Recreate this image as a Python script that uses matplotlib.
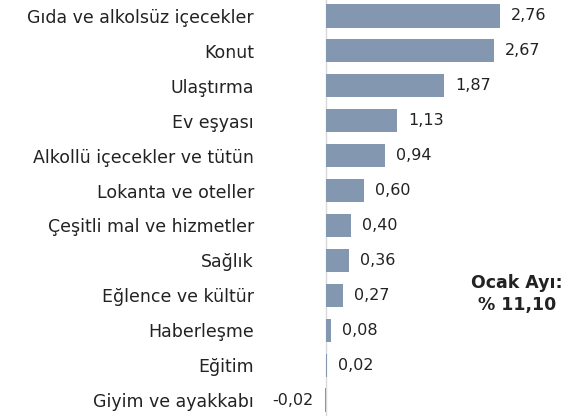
import numpy as np
import matplotlib
matplotlib.use("Agg")
import matplotlib.pyplot as plt

kategoriler = ["Gıda ve alkolsüz içecekler", "Konut", "Ulaştırma", "Ev eşyası",
               "Alkollü içecekler ve tütün", "Lokanta ve oteller",
               "Çeşitli mal ve hizmetler", "Sağlık", "Eğlence ve kültür",
               "Haberleşme", "Eğitim", "Giyim ve ayakkabı"]
katkilar = [2.76, 2.67, 1.87, 1.13, 0.94, 0.60, 0.40, 0.36, 0.27, 0.08, 0.02, -0.02]
not_metni = "Ocak Ayı:\n% 11,10"

plt.rcParams['font.family'] = ['DejaVu Sans']

fig = plt.figure(figsize=(5.69, 4.16), dpi=100)
# 0 ekseni x=326 px'de
sol_px = 300
ax = fig.add_axes([sol_px / 569, -0.004, 1 - sol_px / 569, 1.008])
olcek = 63.0  # px / birim
x0 = -(326 - sol_px) / olcek
ax.set_xlim(x0, x0 + (569 - sol_px) / olcek)

y = np.arange(len(kategoriler))
ax.barh(y, katkilar, height=0.67, color="#8497B0")
ax.set_ylim(len(kategoriler) - 0.5, -0.5)

ax.axvline(0, color="#D9D9D9", lw=1, zorder=0)

for yi, v in zip(y, katkilar):
    etiket = f"{v:.2f}".replace(".", ",")
    if v >= 0:
        ax.annotate(etiket, (v, yi), xytext=(8, 0), textcoords="offset points",
                    ha="left", va="center", fontsize=11.5, color="#222222")
    else:
        ax.annotate(etiket, (v, yi), xytext=(-8, 0), textcoords="offset points",
                    ha="right", va="center", fontsize=11.5, color="#222222")

ax.set_yticks(y)
ax.set_yticklabels(kategoriler, fontsize=12.5, color="#222222")
ax.tick_params(axis="y", length=0, pad=(sol_px - 254) * 0.72)
ax.set_xticks([])
for s in ax.spines.values():
    s.set_visible(False)

fig.text(517 / 569, 1 - 294 / 416, not_metni, ha="center", va="center",
         fontsize=12.5, fontweight="bold", color="#222222", linespacing=1.3)

fig.savefig("out.png", dpi=100)
